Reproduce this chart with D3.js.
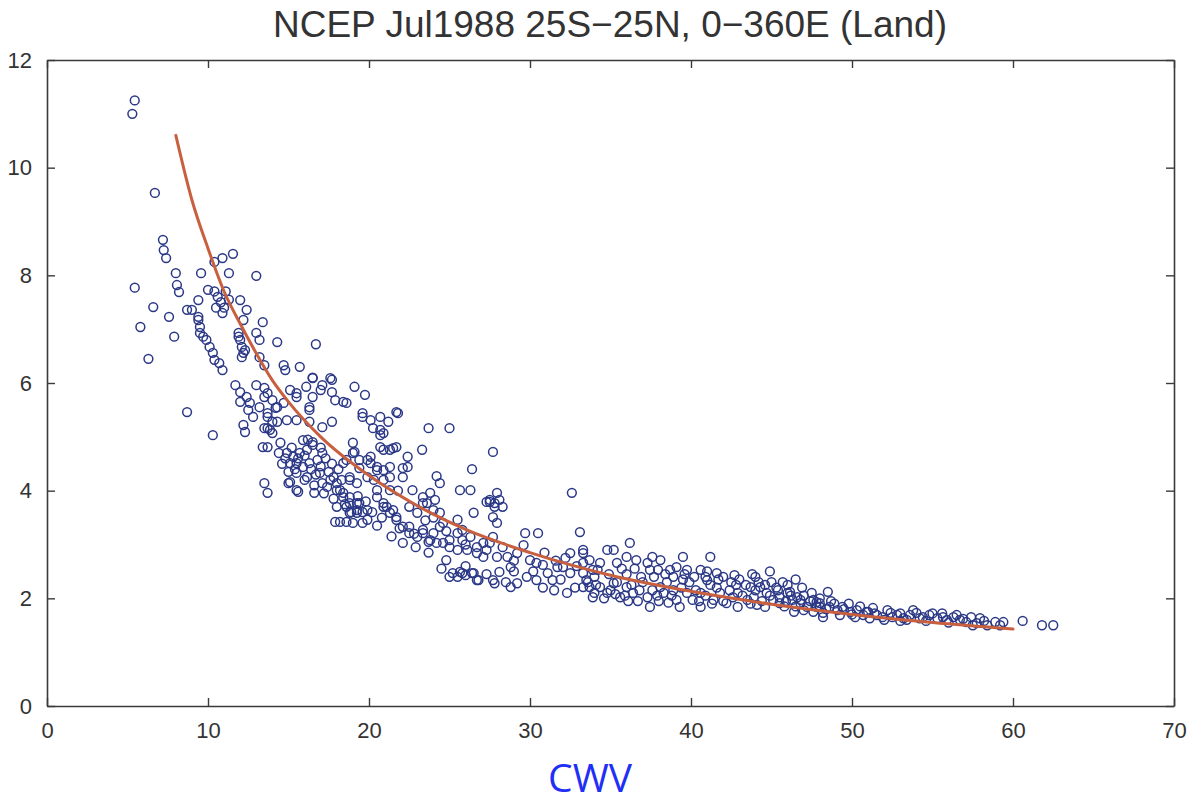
<!DOCTYPE html>
<html>
<head>
<meta charset="utf-8">
<script src="https://cdn.jsdelivr.net/npm/d3@7"></script>
<style>
  html, body { margin: 0; padding: 0; background: #ffffff; }
  svg { display: block; }
</style>
</head>
<body>
<svg id="chart" width="1189" height="803"></svg>
<script>
// ---------------- data ----------------
const titleText = "NCEP Jul1988 25S\u221225N, 0\u2212360E (Land)";
const xLabelText = "CWV";
const xTicks = [0, 10, 20, 30, 40, 50, 60, 70];
const yTicks = [0, 2, 4, 6, 8, 10, 12];
const xDomain = [0, 70];
const yDomain = [0, 12];

// fitted curve
const fitX = [8, 9, 10, 11, 12, 13, 14, 15, 17, 20, 23, 26, 30, 35, 40, 45, 50, 55, 60];
const fitY = [10.6, 9.4, 8.5, 7.7, 7.1, 6.55, 6.05, 5.65, 5.0, 4.28, 3.72, 3.28, 2.85, 2.43, 2.13, 1.89, 1.70, 1.55, 1.43];

// scatter samples [CWV, value]
const samples = [
[5.3,11.0],[5.45,11.25],[6.7,9.53],[7.2,8.66],[7.25,8.47],[7.4,8.32],[5.45,7.77],[8.0,8.04],[9.57,8.04],[11.3,8.04],[13.0,7.99],
[11.55,8.4],[10.9,8.32],[10.4,8.25],[8.07,7.82],[8.2,7.69],[6.6,7.41],[5.8,7.04],[7.58,7.23],[7.9,6.86],[6.3,6.45],[8.7,7.36],
[9.0,7.36],[9.4,7.54],[9.4,7.23],[9.5,7.04],[9.5,6.93],[9.9,6.8],[10.1,6.67],[10.3,6.56],[10.4,6.43],[10.7,6.37],[10.9,6.24],
[10.4,7.7],[10.6,7.6],[10.8,7.5],[11.0,7.4],[10.5,7.4],[11.1,7.7],[10.9,7.3],[11.3,7.55],[10.0,7.73],[9.4,7.17],[9.7,6.86],
[12.0,7.54],[12.4,7.36],[12.2,7.17],[13.4,7.13],[11.9,6.93],[12.0,6.8],[12.1,6.67],[12.2,6.56],[13.0,6.93],[13.2,6.8],[14.3,6.76],
[16.7,6.72],[14.7,6.33],[14.8,6.24],[15.7,6.3],[16.5,6.1],[17.6,6.09],[8.7,5.46],[10.3,5.03],
[11.9,6.86],[12.3,6.61],[12.1,6.48],[13.2,6.48],[13.5,6.33],
[11.7,5.96],[12.0,5.83],[12.4,5.74],[12.6,5.63],[13.0,5.96],[13.7,5.81],[14.0,5.68],[14.3,5.55],[12.5,5.5],[12.8,5.37],[13.2,5.55],
[12.2,5.22],[12.3,5.09],[13.5,5.16],[13.85,5.13],[14.3,5.28],[13.7,5.44],
[15.1,5.87],[15.5,5.74],[16.1,5.93],[16.5,6.09],[17.0,5.87],[17.7,6.06],[17.9,5.68],[18.6,5.63],[16.3,5.55],[14.9,5.31],[15.5,5.31],
[16.3,5.28],[17.1,5.18],[17.7,5.28],[19.1,5.93],[19.75,5.78],[19.6,5.44],[20.1,5.31],[20.7,5.37],[21.2,5.28],[20.7,5.13],[21.7,5.46],
[12.0,5.65],[13.5,5.91],[13.5,5.74],[14.2,5.54],[13.7,5.37],[13.7,5.16],[14.0,5.28],[13.4,4.81],
[17.1,5.96],[17.7,5.83],[18.4,5.65],[16.5,5.74],[16.3,5.5],[15.5,5.81],[14.7,5.63],[19.6,5.37],[21.8,5.44],[20.7,5.03],[20.25,5.16],
[23.7,5.16],[25.0,5.16],[23.3,4.76],[24.2,4.27],[24.4,4.14],[26.4,4.4],[25.65,4.01],[26.3,4.01],[26.5,3.59],[27.7,4.72],[27.3,3.79],[27.8,3.77],
[13.5,4.14],[13.7,3.96],[15.0,4.14],[15.6,3.98],[16.6,3.96],[18.0,4.01],[18.4,3.88],[18.8,3.77],[19.25,3.64],
[17.9,3.42],[18.2,3.42],[18.6,3.42],[19.6,3.4],[20.9,3.7],[21.3,3.59],[21.7,3.46],[22.1,3.33],[22.5,3.21],[22.1,3.03],[23.0,3.14],
[23.35,3.27],[23.8,3.08],[24.2,3.03],[24.6,3.03],[25.0,2.95],[25.5,2.9],[26.1,2.9],[26.7,2.84],[27.1,2.77],
[24.8,2.71],[25.0,2.4],[25.5,2.4],[25.8,2.47],[26.4,2.47],[26.8,2.34],[27.8,2.28],
[19.4,4.57],[20.1,4.51],[20.5,4.38],[20.9,4.2],[21.3,4.01],[20.5,4.01],[19.9,4.25],[18.4,4.51],[18.8,4.25],[19.25,4.14],
[22.1,4.25],[22.4,4.44],[22.7,4.01],[23.35,3.77],[24.0,3.64],[24.4,3.59],[24.6,3.4],[25.5,3.46],[25.8,3.27],
[27.95,3.96],[27.5,3.79],[27.7,3.51],[27.95,3.4],[27.7,3.14],[27.95,2.77],
[19.0,4.89],[19.1,4.72],[20.9,4.76],[21.5,4.79],[22.4,4.63],[22.1,4.42],[21.3,4.44],[19.9,4.57],[19.4,4.42],
[27.5,3.83],[28.3,3.7],[27.8,3.7],[28.1,3.83],[32.6,3.96],
[18.8,4.2],[19.4,3.77],[19.6,3.6],[19.9,3.46],[18.8,3.59],[19.0,3.4],
[20.5,3.88],[20.9,3.77],[21.1,3.7],[21.5,3.64],[21.7,3.51],[22.5,3.33],[23.0,3.59],[23.35,3.88],[23.8,3.96],[24.1,3.83],[23.6,3.77],
[23.35,3.21],[23.7,3.05],[24.0,3.21],[24.4,3.33],[25.0,3.08],[25.5,3.21],[25.8,3.08],[26.3,3.14],[26.7,2.95],[27.1,3.03],[27.5,3.03],
[25.2,2.47],[25.65,2.49],[26.0,2.43],[26.5,2.47],[26.7,2.34],
[27.7,2.34],[28.1,2.49],[28.6,2.77],[28.8,2.58],[29.2,2.84],[29.6,2.99],[29.7,3.21],[30.5,3.21],[30.0,2.71],[30.4,2.66],[30.8,2.62],
[31.1,2.47],[31.4,2.34],[31.7,2.58],[32.05,2.58],[32.5,2.47],[32.5,2.84],[33.1,3.23],[33.3,2.84],[33.7,2.71],[33.3,2.47],[33.5,2.34],
[33.7,2.21],[34.2,2.53],[34.0,2.1],[32.3,2.1],[30.4,2.34],[29.2,2.28],[28.8,2.21],
[33.3,2.9],[33.3,2.66],[33.9,2.53],[34.35,2.66],[34.8,2.9],[35.2,2.9],[35.4,2.66],[36.2,3.03],[36.0,2.77],[36.6,2.71],[37.3,2.66],
[37.6,2.77],[38.1,2.71],[37.95,2.53],[37.45,2.53],[38.7,2.53],[39.1,2.58],[39.5,2.77],[39.75,2.53],[40.6,2.53],[41.2,2.77],[41.6,2.47],
[42.7,2.43],[41.0,2.34],
[33.3,2.21],[33.9,2.02],[34.8,2.1],[35.6,2.02],[36.4,2.1],[37.3,2.02],[37.45,1.84],[38.3,2.1],[39.1,1.97],[39.3,1.84],[40.1,1.97],
[40.6,1.84],[41.4,1.97],[42.2,1.91],[42.9,1.84],[43.5,1.97],[43.7,2.21],[44.3,2.21],[44.6,1.84],[45.1,1.97],[45.5,1.91],[46.0,2.1],
[46.3,1.97],[46.8,1.91],[47.6,1.97],[47.8,1.84],[48.2,1.73],[48.5,2.12],
[34.35,2.21],[35.2,2.28],[36.0,2.21],[36.8,2.15],[38.1,2.21],[38.9,2.15],[39.75,2.1],[40.6,2.1],[41.8,2.1],[42.6,2.02],[43.9,2.02],
[44.7,2.1],[45.5,2.02],[46.6,2.02],[47.2,1.84],[48.0,1.91],[46.15,2.12],[44.6,2.25],
[47.8,1.93],[46.8,1.97],[47.0,1.78],[47.6,1.75],[48.2,1.65],[48.6,1.84],[49.1,1.78],[49.25,1.69],[49.9,1.75],[50.3,1.78],[50.7,1.69],
[51.1,1.63],[51.55,1.69],[51.9,1.65],[52.4,1.73],[52.8,1.69],[53.2,1.63],[53.6,1.69],[54.0,1.73],[54.4,1.65],[54.8,1.69],[55.3,1.63],
[55.65,1.65],[56.3,1.65],[56.7,1.6],[57.1,1.56],[57.5,1.5],[57.95,1.63],[58.4,1.5],[58.9,1.56],[59.4,1.56],[60.6,1.58],[61.8,1.5],[62.5,1.5],
[48.0,1.84],[49.4,1.84],[50.9,1.75],[52.5,1.65],[54.2,1.63],[55.9,1.6],[56.5,1.69],[57.75,1.54],[59.2,1.5],
[14.0,5.07],[13.7,4.81],[14.5,4.89],[14.9,4.7],[15.3,4.63],[15.7,4.7],[16.15,4.76],[16.5,4.85],[15.1,4.51],[15.5,4.51],[15.9,4.44],
[16.3,4.51],[16.8,4.57],[17.1,4.7],[15.9,4.94],[16.5,4.9],[15.1,4.16],[15.5,4.01],
[15.5,4.33],[16.15,4.25],[16.95,4.33],[17.1,4.14],[17.4,4.07],[17.6,4.2],[18.0,4.14],[18.2,4.01],[18.4,3.96],[18.8,3.88],[19.25,3.77],
[18.6,3.7],[19.25,3.59],[19.9,3.64],
[18.6,4.57],[19.0,4.7],[20.1,4.63],[20.5,4.44],[20.9,4.38],[21.3,4.25],[20.9,5.07],[20.7,4.81],[21.3,4.76],[21.7,4.81],
[33.6,2.3],[34.1,2.25],[34.6,2.0],[35.0,2.15],[35.4,2.3],[35.9,2.05],[36.3,2.25],[36.7,1.95],[37.0,2.3],[37.6,2.15],[38.0,1.95],
[38.5,2.3],[38.8,2.05],[39.4,2.2],[39.9,2.3],[40.3,2.15],[40.9,2.05],[41.2,2.25],[41.6,2.2],[42.0,1.95],[42.4,2.15],[42.8,2.25],
[43.2,2.05],[43.7,1.9],[44.0,2.15],[44.4,1.95],[44.9,2.05],[45.3,2.2],[45.8,1.85],[46.2,2.05],[46.5,1.85],[47.0,2.05],[47.4,1.95],
[48.0,2.0],[48.4,1.8],[48.9,1.9],[49.5,1.8],[50.0,1.7],[50.5,1.85],[51.0,1.75],[51.4,1.72],[52.0,1.6],[52.2,1.78],[53.0,1.72],
[53.4,1.6],[54.6,1.58],[55.0,1.72],[56.0,1.55],[56.9,1.62],[58.2,1.58],
[36.0,2.45],[36.9,2.4],[38.4,2.45],[39.5,2.35],[40.2,2.4],[41.0,2.5],[42.0,2.4],[43.0,2.35],[44.0,2.4],[45.0,2.3],[46.0,2.25],
[43.8,2.45],[45.7,2.3],[46.5,2.35],[44.9,2.5],
[28.5,2.3],[29.8,2.4],[30.8,2.2],[31.5,2.15],[32.8,2.2],[30.2,2.5],[29.0,2.5],[31.9,2.35],[32.9,2.6],[27.3,2.45],[26.0,2.6],
[24.5,2.55],[23.7,2.85],[22.9,2.95],[21.4,3.15],[20.5,3.35],
[14.8,4.6],[15.2,4.8],[15.6,4.6],[16.0,4.65],[16.4,4.4],[16.7,4.3],[17.0,4.45],[17.3,4.6],[17.5,4.35],[17.8,4.25],[18.1,4.4],
[18.3,4.2],[15.4,4.4],[16.0,4.2],[16.6,4.1],[17.2,3.95],[17.8,3.85],[18.5,3.75],[18.9,3.6],[19.3,3.9],[17.0,4.8],[16.2,4.95],
[14.6,4.5],[14.4,4.7],[15.0,4.35],[17.7,4.5],[18.0,3.7],[19.8,3.8],[20.2,3.6],[20.8,3.5],[21.9,3.3],[22.8,3.2],[23.5,3.45],
[24.8,3.25],[26.0,3.0],[27.3,2.9],[28.3,2.95],[29.0,2.7],[30.9,2.85],[31.6,2.7],[32.2,2.75],[24.0,3.5],[22.5,3.7],[21.8,4.0],[20.3,4.2],
[34.0,2.4],[34.9,2.45],[35.7,2.55],[36.5,2.55],[37.7,2.4],[38.9,2.4],[39.6,2.45],[40.9,2.4],[41.7,2.35],[42.5,2.3],[43.4,2.25],
[44.2,2.3],[45.4,2.15],[46.9,2.2],[47.5,2.1],[35.3,2.08],[37.9,2.05],[40.5,1.95],[42.9,2.1],[45.9,1.95],[48.7,1.95],[49.8,1.9],
[51.3,1.82],[53.8,1.78],[55.6,1.72],[57.4,1.65],[46.4,1.75],[50.2,1.65],[53.0,1.58],[44.1,1.88],[41.3,1.9],[38.6,1.92],[36.1,1.95]
];

// ---------------- layout ----------------
const svg = d3.select("#chart");
const plotLeft = 47, plotRight = 1174, plotTop = 60, plotBottom = 706;

const x = d3.scaleLinear().domain(xDomain).range([plotLeft, plotRight]);
const y = d3.scaleLinear().domain(yDomain).range([plotBottom, plotTop]);

const axisColor = "#3a3a3a";
const tickFont = "'Liberation Sans', Arial, Helvetica, sans-serif";

// title
svg.append("text")
  .attr("x", 610).attr("y", 37)
  .attr("text-anchor", "middle")
  .attr("font-family", tickFont)
  .attr("font-size", 37)
  .attr("fill", "#333")
  .text(titleText);

// scatter
svg.append("g")
  .selectAll("circle")
  .data(samples)
  .join("circle")
  .attr("cx", d => x(d[0]))
  .attr("cy", d => y(d[1]))
  .attr("r", 4.4)
  .attr("fill", "none")
  .attr("stroke", "#2b3886")
  .attr("stroke-width", 1.5);

// fit curve
const fitData = fitX.map((v, i) => [v, fitY[i]]);
svg.append("path")
  .datum(fitData)
  .attr("fill", "none")
  .attr("stroke", "#c8603f")
  .attr("stroke-width", 3)
  .attr("stroke-linecap", "round")
  .attr("d", d3.line().x(d => x(d[0])).y(d => y(d[1])).curve(d3.curveMonotoneX));

// axes
function styleAxis(g, showLabels) {
  g.select(".domain").attr("stroke", axisColor).attr("stroke-width", 1.6);
  g.selectAll(".tick line").attr("stroke", axisColor).attr("stroke-width", 1.4);
  g.selectAll(".tick text")
    .attr("font-family", tickFont)
    .attr("font-size", 22)
    .attr("fill", "#333");
  if (!showLabels) g.selectAll(".tick text").remove();
}

const gx = svg.append("g").attr("transform", `translate(0,${plotBottom})`)
  .call(d3.axisBottom(x).tickValues(xTicks).tickSizeInner(-8).tickSizeOuter(0).tickPadding(16));
styleAxis(gx, true);

const gxTop = svg.append("g").attr("transform", `translate(0,${plotTop})`)
  .call(d3.axisTop(x).tickValues(xTicks).tickSizeInner(-8).tickSizeOuter(0));
styleAxis(gxTop, false);

const gy = svg.append("g").attr("transform", `translate(${plotLeft},0)`)
  .call(d3.axisLeft(y).tickValues(yTicks).tickSizeInner(-8).tickSizeOuter(0).tickPadding(15));
styleAxis(gy, true);

const gyRight = svg.append("g").attr("transform", `translate(${plotRight},0)`)
  .call(d3.axisRight(y).tickValues(yTicks).tickSizeInner(-8).tickSizeOuter(0));
styleAxis(gyRight, false);

// x label
svg.append("text")
  .attr("x", 590).attr("y", 792)
  .attr("text-anchor", "middle")
  .attr("font-family", "'Open Sans', 'Noto Sans', sans-serif")
  .attr("font-size", 39)
  .attr("fill", "#1f2ff5")
  .text(xLabelText);
</script>
</body>
</html>
